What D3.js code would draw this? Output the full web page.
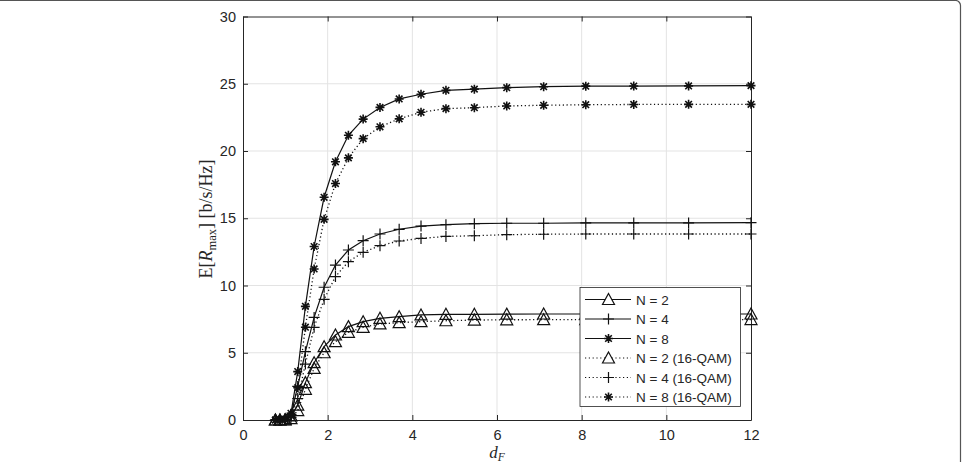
<!DOCTYPE html>
<html>
<head>
<meta charset="utf-8">
<script src="https://cdn.jsdelivr.net/npm/d3@7"></script>
<style>
  body { margin: 0; background: #fff; }
  text { font-family: "Liberation Sans", Arial, sans-serif; }
</style>
</head>
<body>
<div id="chart"></div>
<script>
const width = 962
const height = 462
const margin = { top: 16.5, bottom: 42, left: 243, right: 211 }

// d_F sample points
const dF = [0.766, 0.873, 0.995, 1.134, 1.293, 1.474, 1.680, 1.916, 2.184, 2.490, 2.838,
  3.236, 3.689, 4.205, 4.794, 5.465, 6.230, 7.102, 8.097, 9.230, 10.526, 12.0]

const n2 = [0, 0, 0.02, 0.3, 1.1, 2.78, 4.26, 5.45, 6.32, 6.94, 7.31, 7.56, 7.68, 7.81, 7.86, 7.86, 7.87, 7.88, 7.88, 7.88, 7.88, 7.88]
const n4 = [0, 0, 0.05, 0.4, 2.5, 5.08, 7.63, 9.87, 11.52, 12.64, 13.33, 13.83, 14.18, 14.42, 14.52, 14.6, 14.63, 14.63, 14.65, 14.65, 14.65, 14.67]
const n8 = [0, 0, 0.05, 0.5, 3.6, 8.45, 12.9, 16.56, 19.2, 21.17, 22.37, 23.24, 23.87, 24.22, 24.51, 24.6, 24.71, 24.78, 24.82, 24.83, 24.84, 24.86]
const n2q = [0, 0, 0.01, 0.1, 0.7, 2.28, 3.84, 5.0, 5.82, 6.52, 6.89, 7.14, 7.24, 7.31, 7.38, 7.43, 7.45, 7.46, 7.47, 7.47, 7.47, 7.47]
const n4q = [0, 0, 0.03, 0.2, 1.6, 4.16, 6.89, 8.97, 10.66, 11.77, 12.47, 12.96, 13.31, 13.5, 13.65, 13.7, 13.78, 13.81, 13.83, 13.83, 13.83, 13.83]
const n8q = [0, 0, 0.02, 0.3, 2.4, 6.9, 11.23, 14.92, 17.58, 19.49, 20.92, 21.8, 22.39, 22.88, 23.15, 23.22, 23.35, 23.4, 23.44, 23.46, 23.47, 23.47]

const xTicks = [0, 2, 4, 6, 8, 10, 12]
const yTicks = [0, 5, 10, 15, 20, 25, 30]

const seriesNames = ["N = 2", "N = 4", "N = 8", "N = 2 (16-QAM)", "N = 4 (16-QAM)", "N = 8 (16-QAM)"]
const seriesValues = [n2, n4, n8, n2q, n4q, n8q]
const seriesMarker = ["tri", "plus", "star", "tri", "plus", "star"]
const seriesDotted = [false, false, false, true, true, true]

const axisColor = "#262626"

const svg = d3.select("#chart").append("svg")
  .attr("width", width).attr("height", height)

// page frame
svg.append("rect")
  .attr("x", -10).attr("y", 0.5)
  .attr("width", 970.5).attr("height", 480)
  .attr("rx", 5)
  .attr("fill", "none").attr("stroke", "#555").attr("stroke-width", 1.2)

const x = d3.scaleLinear().domain([0, 12]).range([margin.left, width - margin.right])
const y = d3.scaleLinear().domain([0, 30]).range([height - margin.bottom, margin.top])

// grid
const grid = svg.append("g").attr("id", "grid")
grid.selectAll(".gx").data(xTicks.slice(1, -1)).join("line")
  .attr("x1", d => x(d)).attr("x2", d => x(d))
  .attr("y1", y(0)).attr("y2", y(30))
  .attr("stroke", "#e3e3e3").attr("stroke-width", 1)
grid.selectAll(".gy").data(yTicks.slice(1, -1)).join("line")
  .attr("y1", d => y(d)).attr("y2", d => y(d))
  .attr("x1", x(0)).attr("x2", x(12))
  .attr("stroke", "#e3e3e3").attr("stroke-width", 1)

// axes
const xAxisGroup = svg.append("g").attr("transform", `translate(0, ${y(0)})`)
  .call(d3.axisBottom(x).tickValues(xTicks).tickSizeInner(-5).tickSizeOuter(0).tickPadding(10))
const xAxisTop = svg.append("g").attr("transform", `translate(0, ${y(30)})`)
  .call(d3.axisTop(x).tickValues(xTicks).tickSizeInner(-5).tickSizeOuter(0).tickFormat(""))
const yAxisGroup = svg.append("g").attr("transform", `translate(${x(0)}, 0)`)
  .call(d3.axisLeft(y).tickValues(yTicks).tickSizeInner(-5).tickSizeOuter(0).tickPadding(7))
const yAxisRight = svg.append("g").attr("transform", `translate(${x(12)}, 0)`)
  .call(d3.axisRight(y).tickValues(yTicks).tickSizeInner(-5).tickSizeOuter(0).tickFormat(""))

;[xAxisGroup, xAxisTop, yAxisGroup, yAxisRight].forEach(g => {
  g.select(".domain").attr("stroke", axisColor).attr("stroke-width", 1)
  g.selectAll(".tick line").attr("stroke", axisColor)
  g.selectAll(".tick text").attr("fill", axisColor)
    .style("font-size", "14.5px").style("font-family", "'Liberation Sans', Arial, sans-serif")
})

// markers
function markerPath(type) {
  if (type === "tri") return "M0,-6L6,5L-6,5Z"
  if (type === "plus") return "M-5.5,0H5.5M0,-5.5V5.5"
  return "M-4.5,0H4.5M0,-4.5V4.5M-3.3,-3.3L3.3,3.3M-3.3,3.3L3.3,-3.3"
}

const line = d3.line().x(d => x(d[0])).y(d => y(d[1]))
const plot = svg.append("g").attr("id", "elementGroup")

seriesValues.forEach((vals, i) => {
  const pts = dF.map((d, j) => [d, vals[j]])
  plot.append("path")
    .attr("d", line(pts))
    .attr("fill", "none").attr("stroke", "#111")
    .attr("stroke-width", seriesDotted[i] ? 1.3 : 1.2)
    .attr("stroke-dasharray", seriesDotted[i] ? "1.2,2.6" : null)
  plot.selectAll(null).data(pts).join("path")
    .attr("transform", d => `translate(${x(d[0])}, ${y(d[1])})`)
    .attr("d", markerPath(seriesMarker[i]))
    .attr("fill", "none").attr("stroke", "#111")
    .attr("stroke-width", seriesMarker[i] === "star" ? 1.6 : 1.2)
})

// legend
const legend = svg.append("g").attr("transform", "translate(580, 287.5)")
legend.append("rect")
  .attr("width", 160.5).attr("height", 119)
  .attr("fill", "#fff").attr("stroke", axisColor).attr("stroke-width", 0.8)
seriesNames.forEach((name, i) => {
  const row = legend.append("g").attr("transform", `translate(0, ${12 + i * 19.5})`)
  row.append("line").attr("x1", 5).attr("x2", 51)
    .attr("stroke", "#111").attr("stroke-width", 1.2)
    .attr("stroke-dasharray", seriesDotted[i] ? "1.2,2.6" : null)
  row.append("path").attr("transform", "translate(28.5, 0)")
    .attr("d", markerPath(seriesMarker[i]))
    .attr("fill", "#fff").attr("stroke", "#111")
    .attr("stroke-width", seriesMarker[i] === "star" ? 1.6 : 1.2)
  row.append("text").attr("x", 56).attr("y", 5)
    .attr("fill", axisColor).style("font-size", "13.5px").text(name)
})

// axis labels
const yLabel = svg.append("text")
  .attr("transform", "translate(212, 219) rotate(-90)")
  .attr("text-anchor", "middle")
  .attr("fill", axisColor)
  .style("font-family", "'Liberation Serif', 'DejaVu Serif', serif")
  .style("font-size", "18px")
yLabel.append("tspan").text("E[")
yLabel.append("tspan").style("font-style", "italic").text("R")
yLabel.append("tspan").attr("dy", 3.5).style("font-size", "12.5px").text("max")
yLabel.append("tspan").attr("dy", -3.5).text("] [b/s/Hz]")

const xLabel = svg.append("text")
  .attr("x", (x(0) + x(12)) / 2).attr("y", 458)
  .attr("text-anchor", "middle").attr("fill", axisColor)
  .style("font-family", "'Liberation Serif', 'DejaVu Serif', serif")
  .style("font-size", "17px").style("font-style", "italic")
xLabel.append("tspan").text("d")
xLabel.append("tspan").attr("dy", 3).style("font-size", "11.5px").text("F")
</script>
</body>
</html>
